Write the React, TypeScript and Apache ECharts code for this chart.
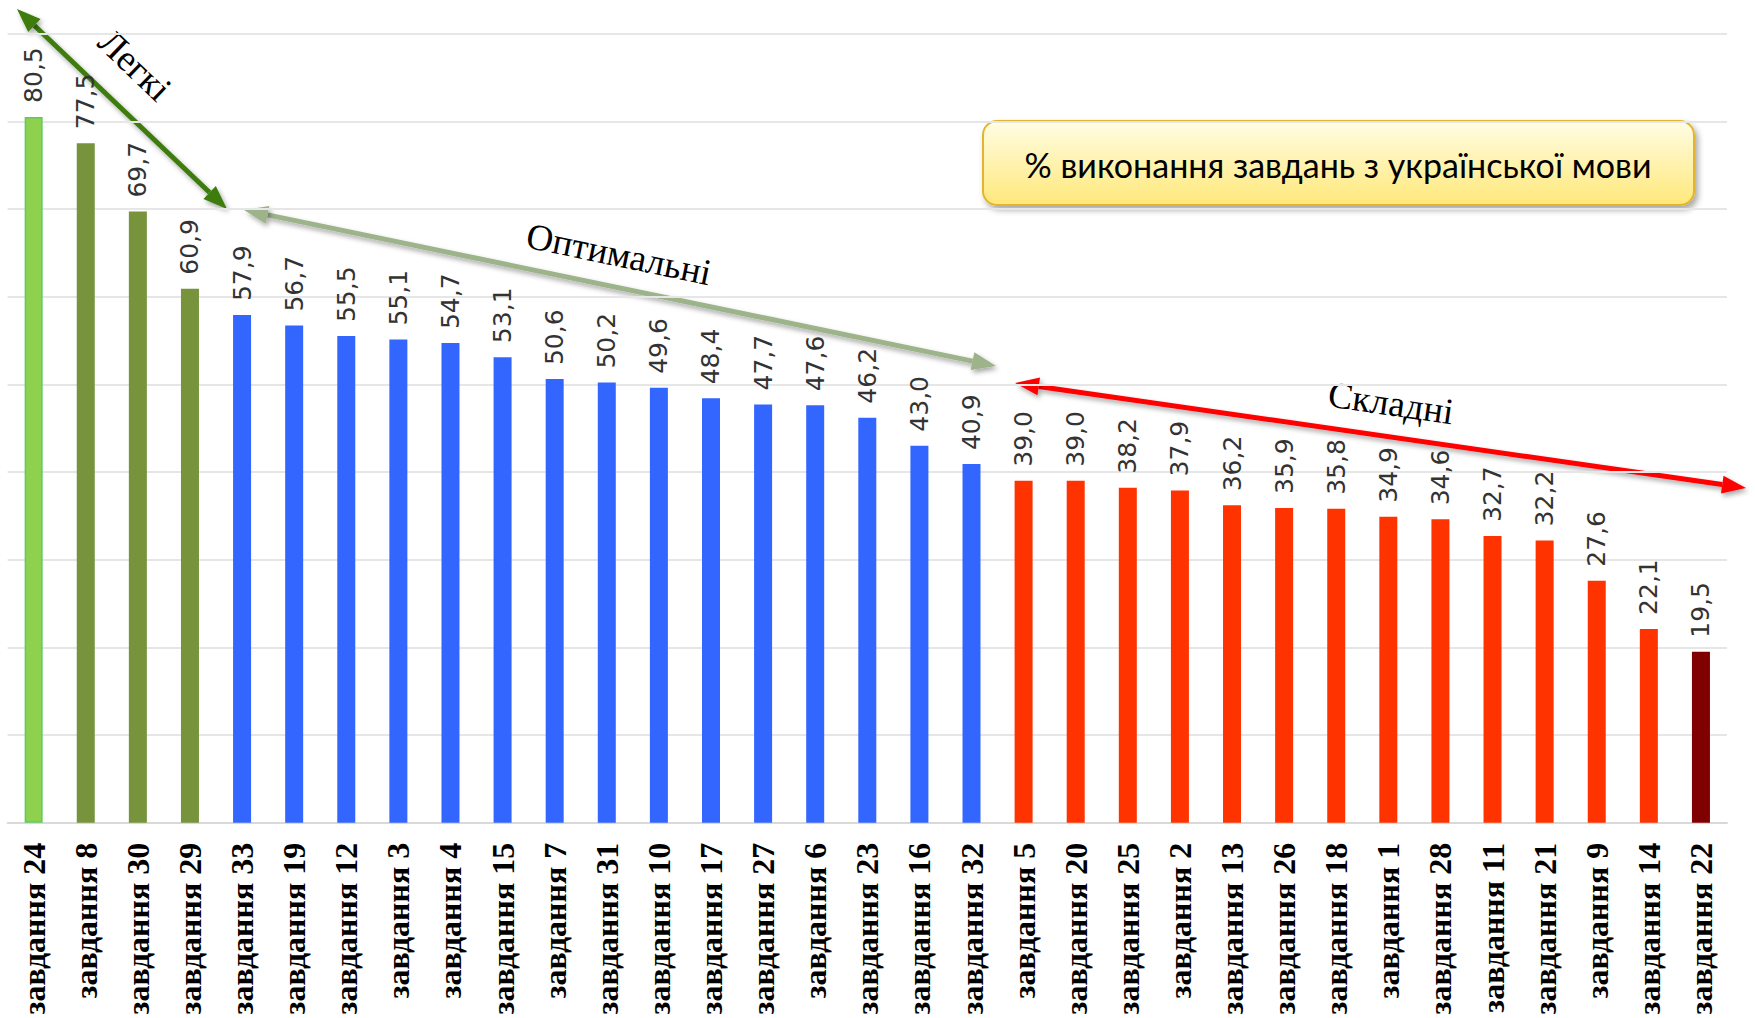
import React, { useEffect, useRef } from "react";
import * as echarts from "echarts";

const categories = [
  "завдання 24", "завдання 8", "завдання 30", "завдання 29", "завдання 33",
  "завдання 19", "завдання 12", "завдання 3", "завдання 4", "завдання 15",
  "завдання 7", "завдання 31", "завдання 10", "завдання 17", "завдання 27",
  "завдання 6", "завдання 23", "завдання 16", "завдання 32", "завдання 5",
  "завдання 20", "завдання 25", "завдання 2", "завдання 13", "завдання 26",
  "завдання 18", "завдання 1", "завдання 28", "завдання 11", "завдання 21",
  "завдання 9", "завдання 14", "завдання 22",
];

const values = [
  80.5, 77.5, 69.7, 60.9, 57.9, 56.7, 55.5, 55.1, 54.7, 53.1, 50.6, 50.2,
  49.6, 48.4, 47.7, 47.6, 46.2, 43.0, 40.9, 39.0, 39.0, 38.2, 37.9, 36.2,
  35.9, 35.8, 34.9, 34.6, 32.7, 32.2, 27.6, 22.1, 19.5,
];

const levels = [
  "easiest", "easy", "easy", "easy",
  "optimal", "optimal", "optimal", "optimal", "optimal", "optimal", "optimal", "optimal",
  "optimal", "optimal", "optimal", "optimal", "optimal", "optimal", "optimal",
  "hard", "hard", "hard", "hard", "hard", "hard", "hard", "hard", "hard", "hard",
  "hard", "hard", "hard",
  "hardest",
];

const groupLabels = ["Легкі", "Оптимальні", "Складні"];
const titleText = "% виконання завдань з української мови";

const levelColors: Record<string, string> = {
  easiest: "#8ED14F",
  easy: "#77933C",
  optimal: "#3366FF",
  hard: "#FF3300",
  hardest: "#800000",
};

const shadow = {
  shadowBlur: 5,
  shadowColor: "rgba(0,0,0,0.35)",
  shadowOffsetX: 2,
  shadowOffsetY: 3,
};

function arrow(
  x1: number, y1: number, x2: number, y2: number,
  color: string, width: number, headLen: number, headW: number
) {
  const dx = x2 - x1;
  const dy = y2 - y1;
  const len = Math.sqrt(dx * dx + dy * dy);
  const ux = dx / len;
  const uy = dy / len;
  const px = -uy;
  const py = ux;
  const a1x = x1 + ux * headLen, a1y = y1 + uy * headLen;
  const a2x = x2 - ux * headLen, a2y = y2 - uy * headLen;
  return [
    {
      type: "line",
      shape: { x1: a1x, y1: a1y, x2: a2x, y2: a2y },
      style: { stroke: color, lineWidth: width, ...shadow },
    },
    {
      type: "polygon",
      shape: {
        points: [
          [x1, y1],
          [a1x + px * headW / 2, a1y + py * headW / 2],
          [a1x - px * headW / 2, a1y - py * headW / 2],
        ],
      },
      style: { fill: color, ...shadow },
    },
    {
      type: "polygon",
      shape: {
        points: [
          [x2, y2],
          [a2x + px * headW / 2, a2y + py * headW / 2],
          [a2x - px * headW / 2, a2y - py * headW / 2],
        ],
      },
      style: { fill: color, ...shadow },
    },
  ];
}

// angleDeg: clockwise (downward to the right) angle on screen
function label(text: string, x: number, y: number, angleDeg: number) {
  return {
    type: "text",
    x,
    y,
    rotation: (-angleDeg * Math.PI) / 180,
    style: {
      text,
      fill: "#000",
      fontSize: 37,
      fontFamily: "Liberation Serif",
      align: "center",
      verticalAlign: "middle",
    },
  };
}

export default function App() {
  const ref = useRef<HTMLDivElement>(null);

  useEffect(() => {
    if (!ref.current) return;
    const chart = echarts.init(ref.current, undefined, { renderer: "svg" });

    const data = values.map((v, i) => ({
      value: v,
      itemStyle: {
        color: levelColors[levels[i]],
        borderColor: levels[i] === "easiest" ? "#5FCB5F" : levelColors[levels[i]],
        borderWidth: levels[i] === "easiest" ? 1.5 : 0,
      },
    }));

    const graphic: any[] = [
      ...arrow(17, 9, 227, 209, "#3E7B0E", 5, 24, 18),
      ...arrow(244, 210, 996, 366, "#9DB38A", 5, 24, 18),
      ...arrow(1015, 383, 1746, 488, "#FF0000", 5, 24, 18),
      label(groupLabels[0], 135, 65, 43.6),
      label(groupLabels[1], 619, 254, 11.7),
      label(groupLabels[2], 1391, 403, 8.2),
      {
        type: "rect",
        shape: { x: 983, y: 121, width: 711, height: 84, r: 14 },
        style: {
          fill: {
            type: "linear",
            x: 0, y: 0, x2: 0, y2: 1,
            colorStops: [
              { offset: 0, color: "#FFFDE4" },
              { offset: 1, color: "#FFE87A" },
            ],
          },
          stroke: "#E3B52E",
          lineWidth: 2,
          shadowBlur: 6,
          shadowColor: "rgba(0,0,0,0.35)",
          shadowOffsetX: 3,
          shadowOffsetY: 4,
        },
      },
      {
        type: "text",
        x: 1338,
        y: 164,
        style: {
          text: titleText,
          fill: "#000",
          fontSize: 34,
          fontFamily: "Lato",
          align: "center",
          verticalAlign: "middle",
        },
      },
    ];

    chart.setOption({
      animation: false,
      backgroundColor: "#fff",
      grid: { left: 7.6, right: 28, top: 33.6, bottom: 195.3, containLabel: false },
      xAxis: {
        type: "category",
        data: categories,
        axisLine: { show: true, lineStyle: { color: "#D9D9D9", width: 2 } },
        axisTick: { show: false },
        axisLabel: {
          interval: 0,
          rotate: 90,
          margin: 20,
          color: "#000",
          fontSize: 32,
          fontWeight: "bold",
          fontFamily: "Liberation Serif",
        },
      },
      yAxis: {
        type: "value",
        min: 0,
        max: 90,
        interval: 10,
        axisLabel: { show: false },
        axisLine: { show: false },
        axisTick: { show: false },
        splitLine: { lineStyle: { color: "#E6E6E6", width: 2 } },
      },
      series: [
        {
          type: "bar",
          data,
          barWidth: 18,
          label: {
            show: true,
            position: "top",
            rotate: 90,
            align: "left",
            verticalAlign: "middle",
            distance: 14,
            color: "#333333",
            fontSize: 25,
            fontFamily: "DejaVu Sans",
            formatter: (p: any) => Number(p.value).toFixed(1).replace(".", ","),
          },
        },
      ],
      graphic,
    });

    return () => chart.dispose();
  }, []);

  return (
    <div
      ref={ref}
      style={{ position: "fixed", left: 0, top: 0, width: 1755, height: 1018 }}
    />
  );
}
